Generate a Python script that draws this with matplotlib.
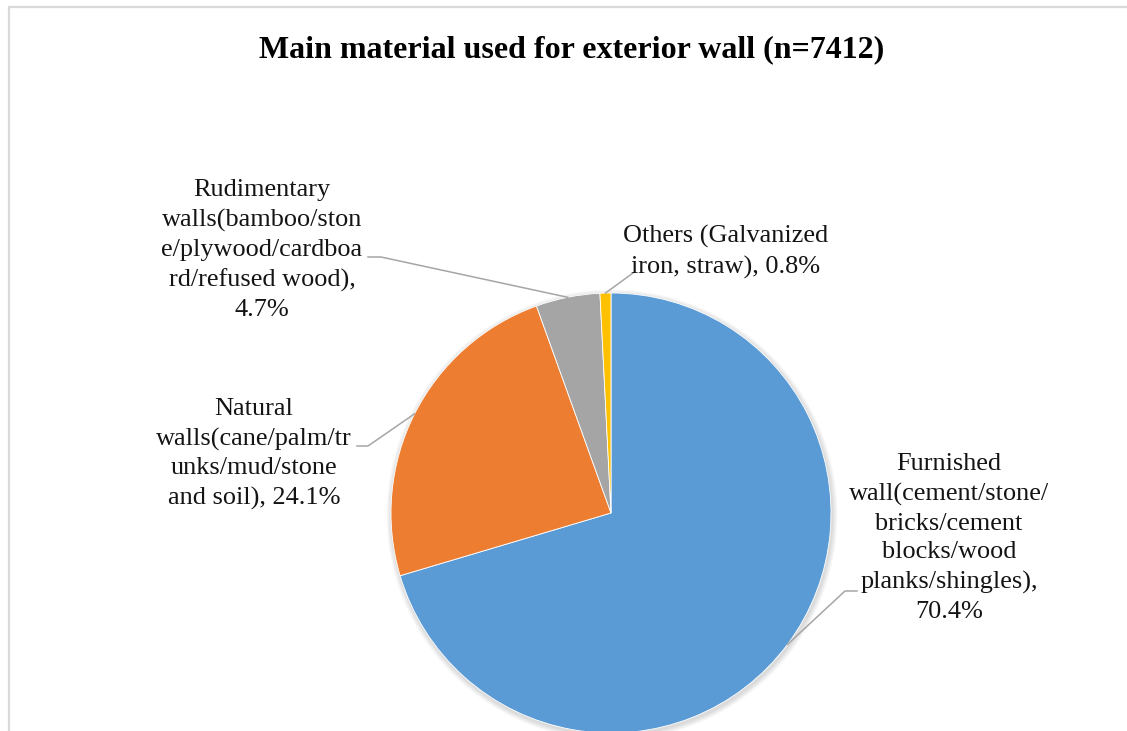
import matplotlib.pyplot as plt
from matplotlib.patches import Circle, Rectangle
import numpy as np

W, H = 1127, 731

labels = [
    'Furnished\nwall(cement/stone/\nbricks/cement\nblocks/wood\nplanks/shingles),\n70.4%',
    'Natural\nwalls(cane/palm/tr\nunks/mud/stone\nand soil), 24.1%',
    'Rudimentary\nwalls(bamboo/ston\ne/plywood/cardboa\nrd/refused wood),\n4.7%',
    'Others (Galvanized\niron, straw), 0.8%',
]
shares = [70.4, 24.1, 4.7, 0.8]
colors = ['#5B9BD5', '#ED7D31', '#A5A5A5', '#FFC000']

plt.rcParams['font.family'] = ['Liberation Serif', 'DejaVu Serif']

fig = plt.figure(figsize=(W / 100, H / 100), dpi=100)
ax = fig.add_axes([0, 0, 1, 1])

# chart-area border (only left and top show)
ax.add_patch(Rectangle((8.5, -20), W + 50, H - 6.5 + 20, fill=False,
                       edgecolor='#D9D9D9', linewidth=1.6))

cx, cy, R = 611, H - 513, 220

# soft shadow
for i in range(6):
    ax.add_patch(Circle((cx + 1, cy - 2), R + 1 + i * 0.9, color='black',
                        alpha=0.025, linewidth=0, zorder=1))

wedges, _ = ax.pie(shares, colors=colors, startangle=90, counterclock=False,
                   center=(cx, cy), radius=R, frame=True,
                   wedgeprops=dict(linewidth=0.6, edgecolor='white', zorder=2))
ax.set_xlim(0, W)
ax.set_ylim(0, H)
ax.set_aspect('equal')
ax.axis('off')

# label block centres and the text end of each leader line (image px)
label_pos = [(949, 538), (254, 454), (262, 250), (726, 252)]
leader_end = [(857, 591), (357, 446), (368, 257), (633, 273)]
elbow = [(845, 591), (368, 446), (381, 257), None]

for w, txt, (lx, ly), end, elb in zip(wedges, labels, label_pos,
                                      leader_end, elbow):
    mid = np.deg2rad((w.theta1 + w.theta2) / 2)
    xs, ys = [cx + R * np.cos(mid)], [cy + R * np.sin(mid)]
    if elb is not None:
        xs.append(elb[0]); ys.append(H - elb[1])
    xs.append(end[0]); ys.append(H - end[1])
    ax.plot(xs, ys, color='#A6A6A6', linewidth=1.1, zorder=3)
    ax.text(lx, H - ly, txt, ha='center', va='center', fontsize=18.9,
            linespacing=1.41, color='#141414', zorder=4)

ax.text(572, H - 50, 'Main material used for exterior wall (n=7412)',
        ha='center', va='center', fontsize=23, fontweight='bold', color='black')

fig.savefig('out.png', dpi=100)
